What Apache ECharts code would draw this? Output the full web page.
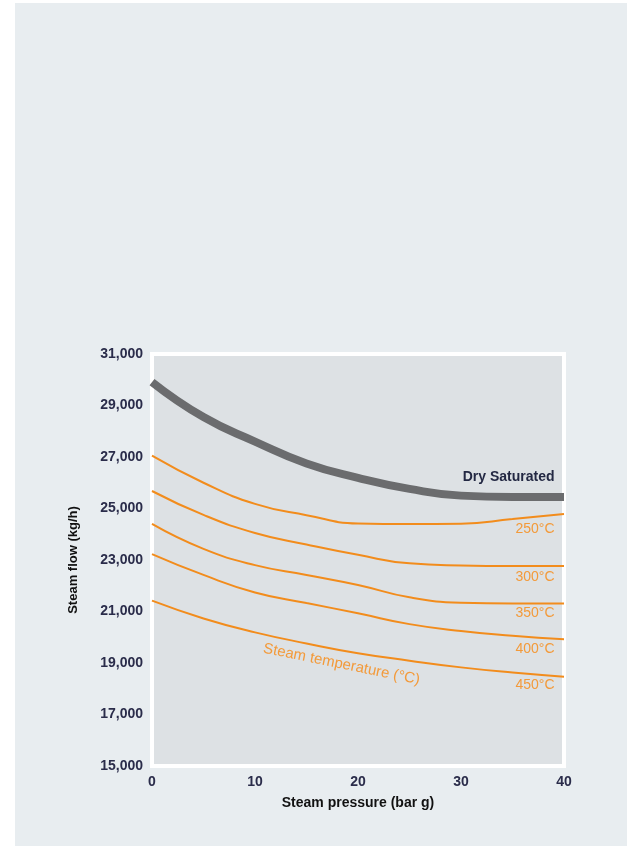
<!DOCTYPE html>
<html>
<head>
<meta charset="utf-8">
<script src="https://cdn.jsdelivr.net/npm/echarts@6/dist/echarts.min.js"></script>
<style>
  html, body { margin: 0; padding: 0; background: #ffffff; }
  #panel { position: absolute; left: 15px; top: 3px; width: 612px; height: 843px; background: #e8edf0; }
  #chart { position: absolute; left: 0; top: 0; width: 627px; height: 846px; }
</style>
</head>
<body>
<div id="panel"></div>
<div id="chart"></div>
<script>
// Steam pressure (bar g)
const pressure = [0, 5, 10, 15, 20, 25, 30, 35, 40];

// Steam flow (kg/h) for dry saturated steam and each superheat temperature
const drySaturated = [29910, 28550, 27600, 26750, 26190, 25760, 25500, 25450, 25450];
const temp250 = [27050, 26000, 25180, 24740, 24420, 24400, 24410, 24590, 24790];
const temp300 = [25680, 24750, 24050, 23600, 23200, 22870, 22790, 22770, 22770];
const temp350 = [24400, 23430, 22800, 22420, 22030, 21550, 21340, 21310, 21310];
const temp400 = [23230, 22420, 21740, 21330, 20930, 20510, 20240, 20060, 19920];
const temp450 = [21420, 20730, 20190, 19760, 19380, 19090, 18830, 18630, 18470];

const tempSeries = [
  { name: '250°C', values: temp250, dy: 15 },
  { name: '300°C', values: temp300, dy: 11 },
  { name: '350°C', values: temp350, dy: 10 },
  { name: '400°C', values: temp400, dy: 10 },
  { name: '450°C', values: temp450, dy: 8 }
];

const yTicks = [15000, 17000, 19000, 21000, 23000, 25000, 27000, 29000, 31000];
const xTicks = [0, 10, 20, 30, 40];

const FONT = '"Liberation Sans", Arial, sans-serif';
const ORANGE_LINE = '#f28c1c';
const ORANGE_TEXT = '#f39a3a';
const CLEAR = 'rgba(0,0,0,0)';

const pairs = vals => pressure.map((p, i) => [p, vals[i]]);

const labelPoint = (x, y, text, color, offset, extra) => ({
  coord: [x, y],
  symbol: 'circle',
  symbolSize: 1,
  itemStyle: { color: CLEAR },
  label: Object.assign({
    show: true,
    position: 'left',
    distance: 0,
    offset: offset,
    formatter: text,
    color: color,
    fontFamily: FONT,
    fontSize: 14
  }, extra || {})
});

const series = [{
  name: 'Dry Saturated',
  type: 'line',
  data: pairs(drySaturated),
  smooth: 0.5,
  showSymbol: false,
  lineStyle: { color: '#6b6c6e', width: 8 },
  z: 3,
  markPoint: {
    silent: true,
    animation: false,
    data: [labelPoint(40, drySaturated[drySaturated.length - 1], 'Dry Saturated', '#232843', [-9, -20], { fontWeight: 'bold' })]
  }
}];

tempSeries.forEach((s, idx) => {
  const marks = [labelPoint(40, s.values[s.values.length - 1], s.name, ORANGE_TEXT, [-9, s.dy])];
  if (idx === tempSeries.length - 1) {
    // caption running along the 450°C curve
    marks.push(labelPoint(18.4, 18950, 'Steam temperature (°C)', ORANGE_TEXT, [0, 0], {
      position: 'inside',
      rotate: -11.5,
      fontSize: 15
    }));
  }
  series.push({
    name: s.name,
    type: 'line',
    data: pairs(s.values),
    smooth: 0.5,
    showSymbol: false,
    lineStyle: { color: ORANGE_LINE, width: 2 },
    z: 2,
    markPoint: { silent: true, animation: false, data: marks }
  });
});

const chart = echarts.init(document.getElementById('chart'), null, { renderer: 'canvas' });
chart.setOption({
  animation: false,
  backgroundColor: 'transparent',
  grid: {
    left: 152, top: 354, width: 412, height: 412,
    show: true,
    backgroundColor: '#dde1e4',
    borderColor: '#ffffff',
    borderWidth: 4
  },
  xAxis: {
    type: 'value',
    min: xTicks[0],
    max: xTicks[xTicks.length - 1],
    interval: 10,
    name: 'Steam pressure (bar g)',
    nameLocation: 'middle',
    nameGap: 30,
    nameTextStyle: { color: '#111111', fontFamily: FONT, fontSize: 14, fontWeight: 'bold' },
    axisLine: { show: false },
    axisTick: { show: false },
    splitLine: { show: false },
    axisLabel: { margin: 9, color: '#2a2c4a', fontFamily: FONT, fontSize: 14, fontWeight: 'bold' }
  },
  yAxis: {
    type: 'value',
    min: yTicks[0],
    max: yTicks[yTicks.length - 1],
    interval: 2000,
    name: 'Steam flow (kg/h)',
    nameLocation: 'middle',
    nameGap: 72,
    nameTextStyle: { color: '#111111', fontFamily: FONT, fontSize: 13, fontWeight: 'bold' },
    axisLine: { show: false },
    axisTick: { show: false },
    splitLine: { show: false },
    axisLabel: {
      margin: 9,
      color: '#2a2c4a',
      fontFamily: FONT,
      fontSize: 14,
      fontWeight: 'bold',
      formatter: v => v.toLocaleString('en-US')
    }
  },
  series: series
});
</script>
</body>
</html>
